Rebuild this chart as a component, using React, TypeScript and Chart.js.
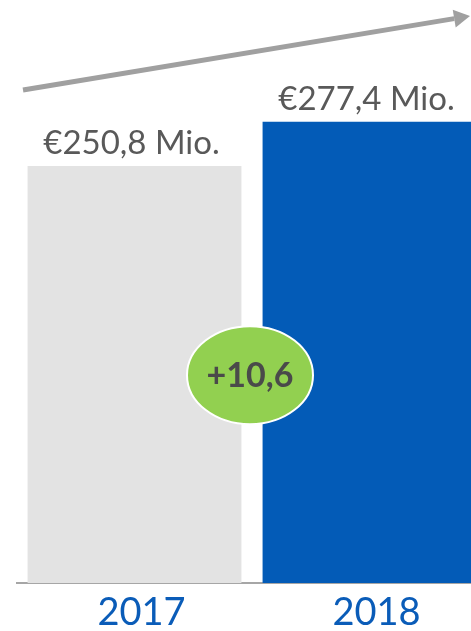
import React, { useEffect, useRef } from "react";
import { Chart, registerables } from "chart.js";

Chart.register(...registerables);

const categories = ["2017", "2018"];
const revenue = [250.8, 277.4];
const valueLabels = ["€250,8 Mio.", "€277,4 Mio."];
const barColors = ["#e3e3e3", "#035bb7"];
const growthLabel = "+10,6";
const growthBadgeValue = 125;
const yMax = 350;

const annotationPlugin = {
  id: "annotations",
  afterDatasetsDraw(chart: any) {
    const { ctx, scales } = chart;
    const meta = chart.getDatasetMeta(0);
    ctx.save();

    // value labels above bars
    ctx.font = "33px Lato";
    ctx.fillStyle = "#595959";
    ctx.textAlign = "center";
    ctx.textBaseline = "alphabetic";
    meta.data.forEach((bar: any, i: number) => {
      ctx.fillText(valueLabels[i], bar.x - 3, bar.y - 12);
    });

    // growth arrow
    const x0 = 23, y0 = 90, x1 = 470, y1 = 16;
    const ang = Math.atan2(y1 - y0, x1 - x0);
    const headLen = 16, headHalf = 9;
    const bx = x1 - headLen * Math.cos(ang);
    const by = y1 - headLen * Math.sin(ang);
    ctx.strokeStyle = "#a0a0a0";
    ctx.fillStyle = "#a0a0a0";
    ctx.lineWidth = 5;
    ctx.lineCap = "butt";
    ctx.beginPath();
    ctx.moveTo(x0, y0);
    ctx.lineTo(bx, by);
    ctx.stroke();
    ctx.beginPath();
    ctx.moveTo(x1, y1);
    ctx.lineTo(bx + headHalf * Math.sin(ang), by - headHalf * Math.cos(ang));
    ctx.lineTo(bx - headHalf * Math.sin(ang), by + headHalf * Math.cos(ang));
    ctx.closePath();
    ctx.fill();

    // growth badge
    const b0 = meta.data[0];
    const b1 = meta.data[1];
    const cx = (b0.x + b0.width / 2 + b1.x - b1.width / 2) / 2 - 2;
    const cy = scales.y.getPixelForValue(growthBadgeValue);
    ctx.beginPath();
    ctx.ellipse(cx, cy, 63, 49, 0, 0, Math.PI * 2);
    ctx.fillStyle = "#92d050";
    ctx.fill();
    ctx.lineWidth = 2;
    ctx.strokeStyle = "#ffffff";
    ctx.stroke();
    ctx.font = "bold 34px Lato";
    ctx.fillStyle = "#4a4a4a";
    ctx.textAlign = "center";
    ctx.textBaseline = "middle";
    ctx.fillText(growthLabel, cx, cy + 1);

    ctx.restore();
  },
};

export default function App() {
  const ref = useRef<HTMLCanvasElement>(null);

  useEffect(() => {
    if (!ref.current) return;
    const chart = new Chart(ref.current, {
      type: "bar",
      data: {
        labels: categories,
        datasets: [
          {
            data: revenue,
            backgroundColor: barColors,
            borderWidth: 0,
            categoryPercentage: 1,
            barPercentage: 0.91,
          },
        ],
      },
      options: {
        responsive: false,
        animation: false,
        layout: { padding: { left: 17, right: 0, top: 1, bottom: 0 } },
        plugins: {
          legend: { display: false },
          tooltip: { enabled: false },
        },
        scales: {
          x: {
            grid: { display: false, drawTicks: false },
            border: { display: true, color: "#a6a6a6", width: 2 },
            ticks: {
              color: "#0a5cb8",
              font: { family: "Lato", size: 38, lineHeight: 1 },
              padding: 11,
              labelOffset: 7,
            },
          },
          y: {
            display: false,
            min: 0,
            max: yMax,
          },
        },
      },
      plugins: [annotationPlugin],
    });
    return () => chart.destroy();
  }, []);

  return (
    <div
      style={{
        position: "absolute",
        left: 0,
        top: 0,
        width: 471,
        height: 631,
        overflow: "hidden",
        background: "#ffffff",
      }}
    >
      <canvas ref={ref} width={487} height={643} style={{ display: "block" }} />
    </div>
  );
}
